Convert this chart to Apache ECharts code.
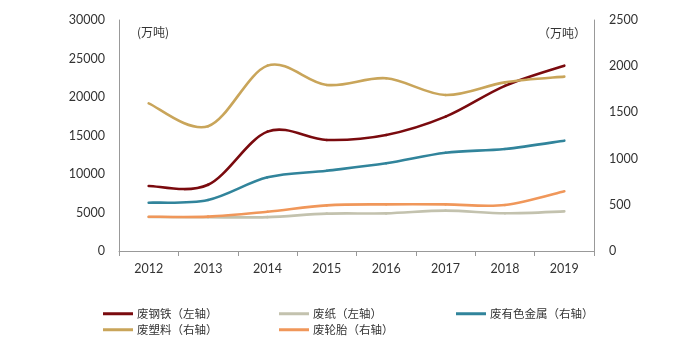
<!DOCTYPE html>
<html><head><meta charset="utf-8">
<script src="https://cdn.jsdelivr.net/npm/echarts@6/dist/echarts.min.js"></script>
<style>html,body{margin:0;padding:0;background:#fff}#c{width:700px;height:343px}</style>
</head><body><div id="c"></div>
<script>
const years = ['2012','2013','2014','2015','2016','2017','2018','2019'];
const steelScrap = [8450, 8600, 15500, 14420, 15070, 17450, 21450, 24070];  // 左轴
const wastePaper = [4420, 4380, 4400, 4850, 4890, 5240, 4900, 5150];        // 左轴
const nonFerrous = [523, 552, 797, 869, 949, 1064, 1104, 1194];              // 右轴
const plastics = [1598, 1350, 2006, 1797, 1869, 1688, 1825, 1887];           // 右轴
const tyres = [371, 372, 425, 494, 505, 505, 498, 646];                      // 右轴
const seriesNames = ['废钢铁（左轴）', '废纸（左轴）', '废有色金属（右轴）', '废塑料（右轴）', '废轮胎（右轴）'];
const leftTicks = [0, 30000, 5000];
const rightTicks = [0, 2500, 500];

const FONT = 'Lato, "Noto Sans CJK SC", sans-serif';
const CJK = '"Noto Sans CJK SC", sans-serif';
const chart = echarts.init(document.getElementById('c'));

// Excel-style smoothed line: cubic Bezier segments (Catmull-Rom, tension 1/6) through axis coordinates
function mk(name, values, color, yi) {
  return {
    name, type: 'custom', coordinateSystem: 'cartesian2d', yAxisIndex: yi,
    data: values.map((v, i) => [i, v]),
    encode: { x: 0, y: 1 },
    itemStyle: { color },
    renderItem: function (params, api) {
      const i = params.dataIndex;
      if (i >= values.length - 1) return null;
      const P = k => { const j = Math.max(0, Math.min(values.length - 1, k)); return api.coord([j, values[j]]); };
      const p0 = P(i - 1), p1 = P(i), p2 = P(i + 1), p3 = P(i + 2);
      const t = 1 / 6;
      return {
        type: 'bezierCurve',
        shape: {
          x1: p1[0], y1: p1[1], x2: p2[0], y2: p2[1],
          cpx1: p1[0] + (p2[0] - p0[0]) * t, cpy1: p1[1] + (p2[1] - p0[1]) * t,
          cpx2: p2[0] - (p3[0] - p1[0]) * t, cpy2: p2[1] - (p3[1] - p1[1]) * t
        },
        style: { stroke: color, lineWidth: 2.6, fill: null, lineCap: 'round' }
      };
    }
  };
}
const legendPos = [[103, 308], [279, 308], [456, 308], [103, 324], [279, 324]];
const legends = seriesNames.map((n, i) => ({
  icon: 'rect', itemWidth: 30, itemHeight: 3, itemGap: 0, padding: 0,
  left: legendPos[i][0], top: legendPos[i][1], data: [n],
  textStyle: { fontFamily: CJK, fontSize: 11.5, color: '#333', padding: [0, 0, 0, -1] }
}));
chart.setOption({
  animation: false,
  grid: { left: 119, right: 106, top: 20, bottom: 92 },
  xAxis: {
    type: 'category', data: years, boundaryGap: true,
    axisLine: { lineStyle: { color: '#999' } },
    axisTick: { show: true, length: 5, lineStyle: { color: '#999' } },
    axisLabel: { fontFamily: FONT, fontSize: 12.5, color: '#333', margin: 12 }
  },
  yAxis: [
    { type: 'value', min: leftTicks[0], max: leftTicks[1], interval: leftTicks[2],
      axisLine: { show: true, lineStyle: { color: '#999' } }, axisTick: { show: false },
      splitLine: { show: false },
      axisLabel: { fontFamily: FONT, fontSize: 12.5, color: '#333', margin: 14, formatter: v => String(v) } },
    { type: 'value', min: rightTicks[0], max: rightTicks[1], interval: rightTicks[2],
      axisLine: { show: true, lineStyle: { color: '#999' } }, axisTick: { show: false },
      splitLine: { show: false },
      axisLabel: { fontFamily: FONT, fontSize: 12.5, color: '#333', margin: 15, formatter: v => String(v) } }
  ],
  legend: legends,
  graphic: [
    { type: 'text', left: 137, top: 26, style: { text: '(万吨)', font: '12px ' + CJK, fill: '#333' } },
    { type: 'text', left: 538, top: 27, style: { text: '（万吨）', font: '12px ' + CJK, fill: '#333' } }
  ],
  series: [
    mk(seriesNames[0], steelScrap, '#7a0a0e', 0),
    mk(seriesNames[1], wastePaper, '#c3c2ae', 0),
    mk(seriesNames[2], nonFerrous, '#31849b', 1),
    mk(seriesNames[3], plastics, '#c9a55a', 1),
    mk(seriesNames[4], tyres, '#f0975a', 1)
  ]
});
</script></body></html>
